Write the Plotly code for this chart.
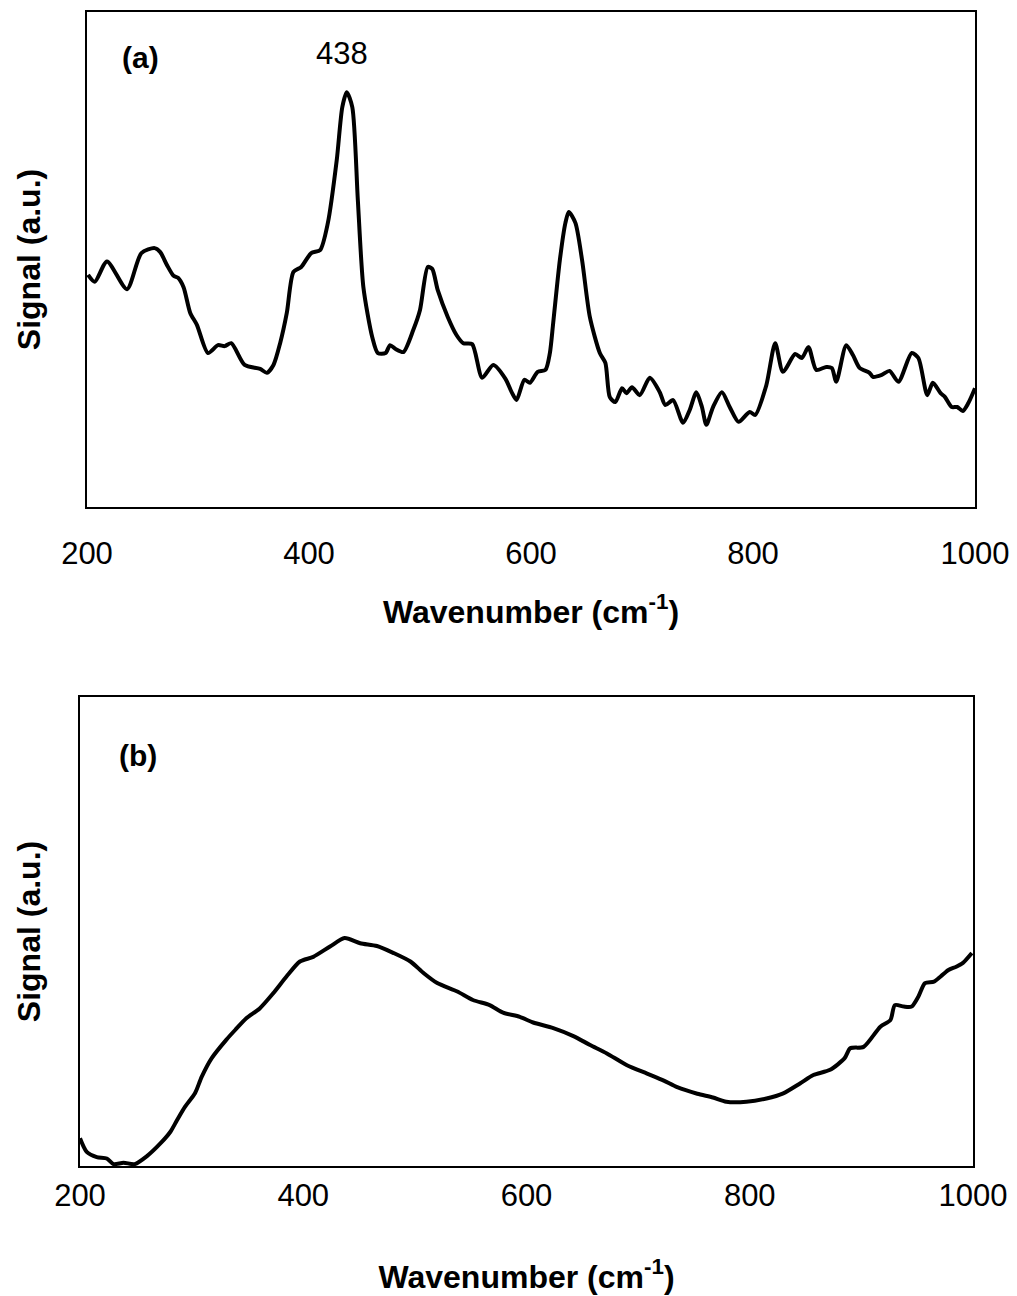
import plotly.graph_objects as go

# ---- Panel (a): Raman spectrum ----
wn_a = [201, 207, 218, 236, 249, 261, 266, 272, 278, 282, 287, 293, 299, 309, 318, 324,
        330, 342, 356, 362, 368, 374, 380, 386, 393, 402, 410, 417, 425, 430, 434, 439,
        444, 449, 457, 462, 469, 473, 478, 485, 494, 500, 507, 511, 516, 525, 533, 539,
        547, 556, 566, 577, 583, 587, 594, 599, 606, 613, 617, 620, 626, 631, 634, 640,
        646, 653, 662, 667, 671, 676, 682, 686, 691, 698, 707, 716, 721, 728, 737, 743,
        749, 754, 758, 764, 772, 779, 787, 797, 802, 812, 820, 827, 838, 844, 850, 857,
        866, 871, 875, 884, 890, 896, 905, 908, 916, 923, 931, 943, 949, 957, 962, 969,
        973, 979, 984, 989, 994, 1000]
sig_a = [46.9, 45.5, 49.6, 44.0, 51.3, 52.3, 51.5, 48.9, 46.7, 46.3, 44.4, 39.2, 36.8, 31.1, 32.7, 32.5,
         33.1, 28.7, 27.9, 27.1, 28.7, 33.1, 39.2, 47.5, 48.5, 51.3, 51.9, 57.4, 70.1, 80.8, 83.8, 80.8,
         62.0, 44.4, 34.3, 31.1, 31.1, 32.7, 31.9, 31.3, 35.8, 39.8, 48.5, 48.1, 43.8, 38.4, 34.7, 33.1,
         32.9, 26.1, 28.7, 25.9, 23.0, 21.6, 25.7, 25.1, 27.3, 27.7, 31.1, 37.2, 49.9, 57.4, 59.6, 57.4,
         49.9, 38.4, 31.1, 29.1, 22.2, 21.2, 24.0, 23.0, 24.2, 22.6, 26.1, 23.2, 20.6, 21.6, 17.0, 19.6,
         23.2, 20.2, 16.6, 20.2, 23.2, 20.2, 17.2, 19.2, 18.6, 24.6, 33.1, 27.3, 30.9, 30.1, 32.3, 27.7,
         28.3, 28.1, 25.3, 32.7, 30.7, 28.1, 27.1, 26.3, 26.7, 27.5, 25.3, 31.1, 30.1, 22.6, 25.1, 23.0,
         22.2, 20.2, 20.2, 19.4, 21.0, 24.0]

# ---- Panel (b): broad background spectrum ----
wn_b = [200, 206, 215, 224, 230, 239, 249, 260, 272, 281, 287, 294, 303, 309, 318, 331,
        339, 349, 361, 373, 385, 397, 409, 424, 437, 451, 466, 481, 496, 508, 520, 538,
        552, 567, 579, 594, 606, 624, 642, 657, 672, 690, 708, 723, 735, 753, 767, 779,
        797, 815, 830, 845, 857, 872, 885, 890, 902, 917, 926, 930, 938, 945, 951, 957,
        965, 971, 978, 985, 991, 999]
sig_b = [5.9, 3.0, 1.9, 1.6, 0.4, 0.7, 0.4, 2.1, 4.8, 7.3, 9.8, 12.6, 15.5, 19.0, 23.0, 26.9,
         29.0, 31.5, 33.6, 36.8, 40.4, 43.6, 44.6, 46.8, 48.6, 47.5, 46.9, 45.4, 43.6, 41.1, 39.0, 37.2,
         35.4, 34.3, 32.7, 31.8, 30.6, 29.4, 27.7, 25.8, 24.0, 21.5, 19.7, 18.2, 16.8, 15.4, 14.6, 13.7,
         13.7, 14.4, 15.5, 17.6, 19.4, 20.5, 23.0, 25.1, 25.4, 29.7, 31.1, 34.3, 34.0, 34.0, 36.1, 39.0,
         39.3, 40.4, 41.8, 42.5, 43.3, 45.4]

x_ticks = [200, 400, 600, 800, 1000]
x_title = "Wavenumber (cm<sup>-1</sup>)"
y_title = "Signal (a.u.)"
panel_labels = ["(a)", "(b)"]
peak_label = "438"

W, H = 1017, 1296
def px(x):
    return x / W
def py(y):
    return 1 - y / H

fig = go.Figure()
line_style = dict(color="black", width=4, shape="spline", smoothing=0.7)
fig.add_trace(go.Scatter(x=wn_a, y=sig_a, mode="lines", line=line_style,
                         xaxis="x", yaxis="y", showlegend=False))
fig.add_trace(go.Scatter(x=wn_b, y=sig_b, mode="lines", line=line_style,
                         xaxis="x2", yaxis="y2", showlegend=False))

tick_font = dict(family="Liberation Sans, Arial, sans-serif", size=31, color="black")
title_font = dict(family="Liberation Sans, Arial, sans-serif", size=32, color="black")
label_font = dict(family="Liberation Sans, Arial, sans-serif", size=30, color="black")

def xaxis_cfg(domain, anchor, ticklen, standoff):
    return dict(domain=domain, anchor=anchor, range=[200, 1000], tickmode="array",
                tickvals=x_ticks, ticktext=[str(t) for t in x_ticks],
                ticks="outside", ticklen=ticklen, tickcolor="rgba(0,0,0,0)",
                tickfont=tick_font, showline=True, linecolor="black", linewidth=2,
                mirror=True, showgrid=False, zeroline=False, automargin=False,
                title=dict(text="<b>" + x_title + "</b>", font=title_font, standoff=standoff))

def yaxis_cfg(domain, anchor, standoff):
    return dict(domain=domain, anchor=anchor, range=[0, 100], showticklabels=False,
                ticks="", showline=True, linecolor="black", linewidth=2, mirror=True,
                showgrid=False, zeroline=False, automargin=False,
                title=dict(text="<b>" + y_title + "</b>", font=title_font, standoff=standoff))

fig.update_layout(
    width=W, height=H,
    margin=dict(l=0, r=0, t=0, b=0, autoexpand=False),
    paper_bgcolor="white", plot_bgcolor="white",
    xaxis=xaxis_cfg([px(87), px(975)], "y", 18, 30),
    yaxis=yaxis_cfg([py(507), py(12)], "x", 35),
    xaxis2=xaxis_cfg([px(80), px(973)], "y2", 1, 53),
    yaxis2=yaxis_cfg([py(1166), py(697)], "x2", 28),
    annotations=[
        dict(text="<b>" + panel_labels[0] + "</b>", xref="paper", yref="paper",
             x=px(140), y=py(58), showarrow=False, font=label_font,
             xanchor="center", yanchor="middle"),
        dict(text="<b>" + panel_labels[1] + "</b>", xref="paper", yref="paper",
             x=px(138), y=py(755), showarrow=False, font=label_font,
             xanchor="center", yanchor="middle"),
        dict(text=peak_label, xref="paper", yref="paper",
             x=px(342), y=py(53), showarrow=False, font=tick_font,
             xanchor="center", yanchor="middle"),
    ],
)

fig.write_html("out.html")
